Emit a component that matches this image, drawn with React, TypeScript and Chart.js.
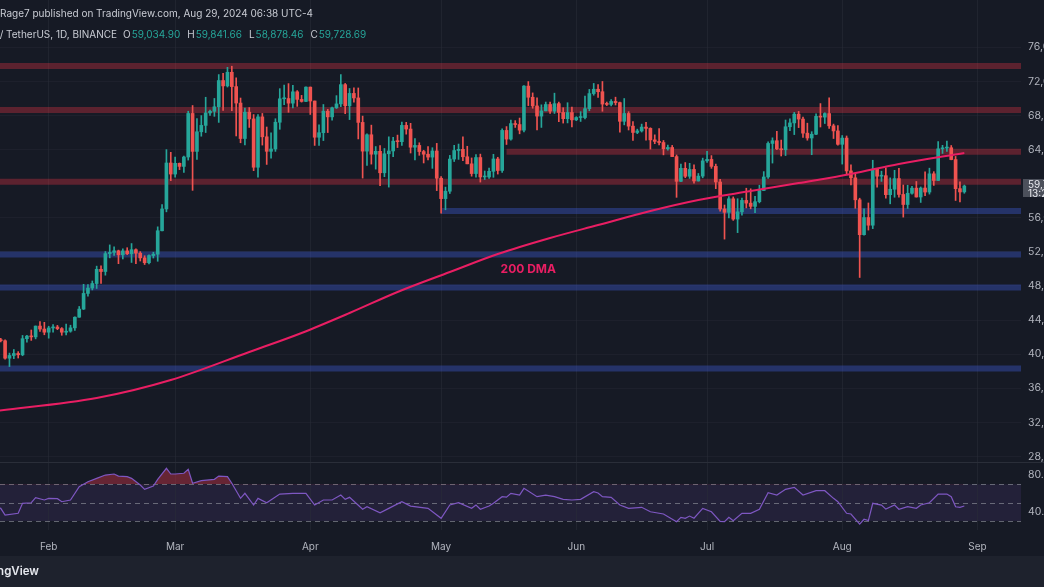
import React, { useEffect, useRef } from "react";
import { Chart, registerables } from "chart.js";

Chart.register(...registerables);

// ---------------- DATA ----------------
// Daily BTC/USDT candles, one per day starting at FIRST_DATE
const FIRST_DATE = "2024-01-20";

const opens = [
  // Jan 20-31
  41660, 41700, 41580, 39530, 39850, 40080, 39930, 41820, 42120, 42030, 43300, 42950,
  // Feb
  42580, 43080, 43190, 43000, 42580, 42700, 43090, 44340, 45290, 47130, 47760, 48290, 49960, 49700, 51800, 51940, 52130, 51660, 52120, 51780, 52260, 51850, 51300, 50730, 51570, 51730, 54480, 57040, 62430,
  // Mar
  61130, 62390, 62030, 63130, 68240, 63790, 66090, 66840, 68300, 68490, 69020, 72100, 71470, 73070, 71390, 69460, 65300, 68390, 67600, 61930, 67840, 65500, 63800, 64070, 67210, 69960, 69990, 69450, 70780, 69890, 69650,
  // Apr
  71330, 69700, 65450, 65980, 68500, 67840, 68900, 69360, 71620, 69140, 70590, 70060, 67190, 63820, 65740, 63460, 63800, 61280, 63510, 63840, 64990, 64930, 66840, 66410, 64280, 64490, 63770, 63460, 63120, 63840,
  // May
  60640, 58250, 59120, 62890, 63890, 64030, 63160, 62330, 61190, 63070, 60790, 60790, 61450, 62900, 61550, 66250, 65230, 67050, 66940, 66280, 71450, 70140, 69120, 67930, 68540, 69290, 68510, 69390, 68360, 67630, 68350,
  // Jun
  67490, 67760, 67760, 68800, 70570, 71080, 70790, 69340, 69300, 69650, 69510, 67320, 68240, 66750, 66010, 66190, 66640, 66490, 65140, 64960, 64830, 64100, 64250, 63180, 60280, 61800, 60870, 61670, 60320, 60890,
  // Jul
  62680, 62850, 62030, 60200, 57030, 56640, 58230, 55850, 56700, 58040, 57720, 57340, 57890, 59200, 60790, 64720, 65040, 64090, 63980, 66680, 67130, 68160, 67580, 65930, 65360, 65800, 67900, 67810, 68230, 66790, 66190,
  // Aug 1-29
  64620, 65350, 61500, 60690, 58110, 54020, 56030, 55130, 61710, 60880, 60940, 58710, 59350, 60600, 58740, 57560, 58880, 59480, 58440, 59490, 59020, 61160, 60380, 64090, 64180, 64220, 62830, 59420, 59034.9,
];

const highs = [
  41880, 41870, 41690, 40130, 40550, 40300, 42200, 42200, 42840, 43310, 43840, 43740,
  43280, 43480, 43380, 43120, 43540, 43400, 44370, 45600, 48200, 48170, 48590, 50330, 50370, 52040, 52820, 52580, 52210, 52360, 52490, 52980, 52370, 52030, 51550, 51670, 51960, 54940, 57550, 64000, 63680,
  63110, 62430, 63230, 68500, 69170, 67640, 67990, 70140, 68640, 70000, 72800, 72950, 73650, 73780, 72420, 70050, 68880, 68930, 68110, 68100, 68240, 66650, 65970, 67620, 71150, 71560, 71740, 71550, 70920, 70360, 71370,
  71340, 69700, 66900, 69290, 68720, 69000, 70330, 72800, 71760, 71170, 71260, 71230, 67930, 65840, 66870, 64360, 64480, 64130, 65500, 65450, 65700, 67230, 67200, 67080, 65300, 64800, 63920, 64360, 64220, 64730,
  60840, 59600, 63320, 64500, 64650, 65500, 64390, 63020, 63420, 63470, 61490, 61840, 63450, 63100, 66450, 66700, 67450, 67400, 67700, 71500, 71980, 70650, 70080, 69250, 69580, 69560, 70620, 69560, 68910, 69500, 69000,
  67860, 68450, 70280, 71060, 71760, 71630, 71990, 69580, 69880, 70150, 69560, 69990, 68450, 67300, 66400, 66990, 67190, 66560, 65730, 66480, 65070, 64520, 64490, 63370, 62300, 62480, 62390, 62200, 61200, 63000,
  63800, 63300, 62300, 60500, 57500, 58480, 58450, 58240, 58300, 59470, 59400, 58530, 59820, 61420, 64900, 65380, 66130, 65120, 67470, 67600, 68370, 68480, 67800, 67100, 66100, 68200, 69400, 68320, 70080, 66990, 66830,
  65650, 65600, 62200, 61120, 58300, 57040, 57740, 62750, 61750, 61470, 61860, 60680, 61570, 61800, 59850, 59820, 59690, 60260, 59620, 61400, 61820, 61410, 64950, 64500, 65000, 64480, 63200, 60230, 59841.66,
];

const lows = [
  41500, 41450, 39430, 38550, 39480, 39550, 39820, 41400, 41620, 41800, 42680, 42280,
  41880, 42570, 42880, 42220, 42260, 42580, 42790, 44330, 45240, 46800, 47540, 47710, 48300, 49270, 51300, 51580, 50620, 51170, 51680, 50760, 50630, 50930, 50520, 50590, 51280, 50900, 54450, 56700, 60360,
  60780, 61650, 61320, 62770, 59220, 62850, 65570, 66000, 68000, 67900, 67190, 68600, 71340, 68560, 65600, 64800, 64540, 66600, 61530, 60770, 64530, 62260, 63000, 63790, 66380, 69280, 68380, 68900, 69070, 69570, 69620,
  68120, 64490, 64490, 65060, 66000, 67450, 68820, 69040, 68210, 67520, 69560, 65250, 60660, 62130, 62300, 61710, 59770, 60820, 59600, 63170, 64240, 64500, 65810, 63600, 62800, 63330, 62430, 62800, 61800, 59190,
  56550, 56940, 58850, 62600, 62850, 62700, 62330, 60880, 60770, 60190, 60490, 60630, 60750, 61130, 61310, 64600, 65120, 66600, 65850, 66060, 69160, 68850, 66300, 66600, 68540, 68230, 68240, 67280, 67110, 67130, 66670,
  67390, 67300, 67610, 68560, 70380, 70120, 68500, 69160, 69130, 69230, 66050, 66900, 66300, 65080, 65870, 66060, 65100, 64060, 64690, 64550, 63380, 63940, 63180, 58400, 60230, 60710, 60620, 60060, 60300, 60690,
  62500, 61800, 59420, 56780, 53500, 56000, 55700, 54260, 56300, 57160, 57050, 56600, 57750, 59180, 60630, 62420, 64000, 63250, 63300, 66220, 65760, 66580, 65440, 65100, 63400, 65750, 66650, 67060, 66480, 65300, 64530,
  62300, 61100, 59850, 57120, 49000, 53970, 54560, 54730, 59590, 60270, 58290, 57640, 58410, 58430, 56080, 57100, 58780, 58430, 57800, 58590, 58780, 59800, 60350, 63550, 63800, 62800, 58030, 57860, 58878.46,
];

const closes = [
  41700, 41580, 39530, 39850, 40080, 39930, 41820, 42120, 42030, 43300, 42950, 42580,
  43080, 43190, 43000, 42580, 42700, 43090, 44340, 45290, 47130, 47760, 48290, 49960, 49700, 51800, 51940, 52130, 51660, 52120, 51780, 52260, 51850, 51300, 50730, 51570, 51730, 54480, 57040, 62430, 61130,
  62390, 62030, 63130, 68240, 63790, 66090, 66840, 68300, 68490, 69020, 72100, 71470, 73070, 71390, 69460, 65300, 68390, 67600, 61930, 67840, 65500, 63800, 64070, 67210, 69960, 69990, 69450, 70780, 69890, 69650, 71330,
  69700, 65450, 65980, 68500, 67840, 68900, 69360, 71620, 69140, 70590, 70060, 67190, 63820, 65740, 63460, 63800, 61280, 63510, 63840, 64990, 64930, 66840, 66410, 64280, 64490, 63770, 63460, 63120, 63840, 60640,
  58250, 59120, 62890, 63890, 64030, 63160, 62330, 61190, 63070, 60790, 60790, 61450, 62900, 61550, 66250, 65230, 67050, 66940, 66280, 71450, 70140, 69120, 67930, 68540, 69290, 68510, 69390, 68360, 67630, 68350, 67490,
  67760, 67760, 68800, 70570, 71080, 70790, 69340, 69300, 69650, 69510, 67320, 68240, 66750, 66010, 66190, 66640, 66490, 65140, 64960, 64830, 64100, 64250, 63180, 60280, 61800, 60870, 61670, 60320, 60890, 62680,
  62850, 62030, 60200, 57030, 56640, 58230, 55850, 56700, 58040, 57720, 57340, 57890, 59200, 60790, 64720, 65040, 64090, 63980, 66680, 67130, 68160, 67580, 65930, 65360, 65800, 67900, 67810, 68230, 66790, 66190, 64620,
  65350, 61500, 60690, 58110, 54020, 56030, 55130, 61710, 60880, 60940, 58710, 59350, 60600, 58740, 57560, 58880, 59480, 58440, 59490, 59020, 61160, 60380, 64090, 64180, 64220, 62830, 59420, 59030, 59728.69,
];

// 200-day moving average
const dmaDates = [
  "2024-01-20", "2024-02-12", "2024-02-29", "2024-03-18", "2024-03-30", "2024-04-10",
  "2024-04-21", "2024-05-03", "2024-05-14", "2024-05-26", "2024-06-06", "2024-06-18",
  "2024-06-29", "2024-07-11", "2024-07-22", "2024-08-03", "2024-08-14", "2024-08-29",
];
const dmaValues = [
  33350, 34860, 36970, 40260, 42490, 44830,
  47300, 49640, 51750, 53630, 55150, 56800,
  58090, 59140, 60080, 61140, 62310, 63600,
];

// RSI (14)
const rsiDates = [
  "2024-01-20", "2024-01-21", "2024-01-22", "2024-01-25", "2024-01-26", "2024-01-28", "2024-01-29", "2024-01-31",
  "2024-02-01", "2024-02-03", "2024-02-04", "2024-02-06", "2024-02-08", "2024-02-10", "2024-02-12", "2024-02-14", "2024-02-16", "2024-02-17", "2024-02-19", "2024-02-20", "2024-02-22", "2024-02-23", "2024-02-25", "2024-02-26", "2024-02-28", "2024-02-29",
  "2024-03-01", "2024-03-03", "2024-03-04", "2024-03-05", "2024-03-07", "2024-03-10", "2024-03-11", "2024-03-13", "2024-03-14", "2024-03-16", "2024-03-17", "2024-03-19", "2024-03-20", "2024-03-22", "2024-03-25", "2024-03-28", "2024-03-31",
  "2024-04-02", "2024-04-04", "2024-04-06", "2024-04-08", "2024-04-09", "2024-04-10", "2024-04-13", "2024-04-14", "2024-04-17", "2024-04-19", "2024-04-22", "2024-04-24", "2024-04-28",
  "2024-05-01", "2024-05-03", "2024-05-05", "2024-05-08", "2024-05-09", "2024-05-10", "2024-05-12", "2024-05-13", "2024-05-15", "2024-05-16", "2024-05-17", "2024-05-19", "2024-05-20", "2024-05-23", "2024-05-25", "2024-05-27", "2024-05-29", "2024-05-31",
  "2024-06-02", "2024-06-05", "2024-06-06", "2024-06-07", "2024-06-09", "2024-06-11", "2024-06-13", "2024-06-16", "2024-06-18", "2024-06-21", "2024-06-24", "2024-06-25", "2024-06-26", "2024-06-27", "2024-06-28", "2024-06-30",
  "2024-07-02", "2024-07-04", "2024-07-05", "2024-07-06", "2024-07-07", "2024-07-09", "2024-07-11", "2024-07-13", "2024-07-15", "2024-07-17", "2024-07-19", "2024-07-21", "2024-07-23", "2024-07-26", "2024-07-28", "2024-07-30", "2024-07-31",
  "2024-08-02", "2024-08-03", "2024-08-05", "2024-08-06", "2024-08-07", "2024-08-08", "2024-08-10", "2024-08-11", "2024-08-13", "2024-08-14", "2024-08-16", "2024-08-18", "2024-08-19", "2024-08-21", "2024-08-23", "2024-08-25", "2024-08-26", "2024-08-27", "2024-08-28", "2024-08-29",
];
const rsiValues = [
  45.5, 43.8, 36.5, 38.4, 49.3, 49.9, 55.4, 52.9,
  54.7, 54.3, 51, 52.9, 67.4, 72.8, 76.5, 80.1, 81.2, 79, 78.3, 76.5, 69.2, 64.5, 68.1, 75.4, 87.4, 81.2,
  81.2, 82, 86.3, 71.1, 74, 75.4, 79, 78.3, 71.1, 54.7, 60.2, 47.4, 54.7, 49.9, 59.4, 60.2, 60.2,
  47.4, 52.9, 52.9, 58.3, 53.6, 55.8, 42.8, 45.6, 39, 43.8, 51, 46.3, 43.8,
  32.9, 47.4, 49.9, 43.8, 47.4, 42.8, 46.3, 49.3, 56.5, 56, 60.2, 58.3, 65.6, 56.5, 58.3, 56.5, 53.6, 52.9,
  53.6, 61.9, 60.5, 56.5, 55.8, 47.4, 43.8, 44.9, 40.1, 37.6, 29.2, 34, 32.9, 35.4, 33, 43.8,
  40.1, 29.5, 29.2, 34, 30.3, 38.4, 38.4, 42.8, 60.8, 58.3, 64.5, 66.7, 58.3, 63, 63, 54.7, 51,
  38.4, 37.6, 26.7, 31.9, 30.5, 49.3, 47.4, 43, 47.4, 42.8, 45.6, 43.8, 47.4, 49.9, 59.4, 59.4, 56.5, 45.5, 44.9, 46.3,
];

// Horizontal support / resistance zones
const zonePrices = [73800, 68650, 63750, 60230, 56800, 51700, 47820, 38320];
const zoneStarts = ["2024-01-01", "2024-01-01", "2024-05-16", "2024-01-01", "2024-05-01", "2024-01-01", "2024-01-01", "2024-01-01"];
const zoneKinds = ["res", "res", "res", "res", "sup", "sup", "sup", "sup"];
const zoneEnd = "2024-09-30";

// Axes
const monthTickDates = ["2024-02-01", "2024-03-01", "2024-04-01", "2024-05-01", "2024-06-01", "2024-07-01", "2024-08-01", "2024-09-01"];
const monthTickLabels = ["Feb", "Mar", "Apr", "May", "Jun", "Jul", "Aug", "Sep"];
const priceTicks = [28000, 32000, 36000, 40000, 44000, 48000, 52000, 56000, 64000, 68000, 72000, 76000];
const rsiTicks = [40, 80];
const rsiLevels = [70, 50, 30];

const dmaLabel = "200 DMA";
const dmaLabelDate = "2024-05-21";
const dmaLabelPrice = 49900;

const headerLine1 = "Rage7 published on TradingView.com, Aug 29, 2024 06:38 UTC-4";
const headerSymbol = "Bitcoin / TetherUS, 1D, BINANCE";
const ohlcKeys = ["O", "H", "L", "C"];
const ohlcValues = ["59,034.90", "59,841.66", "58,878.46", "59,728.69"];
const countdown = "13:21:26";
const brand = "TradingView";

// ---------------- STYLE ----------------
const BG = "#161a25";
const FOOTER_BG = "#1e222d";
const UP = "#26a69a";
const DOWN = "#ef5350";
const RES_COLOR = "rgba(242,54,69,0.32)";
const SUP_COLOR = "rgba(60,85,200,0.42)";
const DMA_COLOR = "#e91e63";
const RSI_COLOR = "#7e57c2";
const AXIS_TEXT = "#b2b5be";
const GRID = "rgba(42,46,57,0.55)";
const FONT = "Inter, 'Noto Sans', sans-serif";

const VIEW_START = -11.17;
const VIEW_END = 223.0;

const toDay = (s: string) => {
  const [y, m, d] = s.split("-").map(Number);
  return (Date.UTC(y, m - 1, d) - Date.UTC(2024, 1, 1)) / 86400000;
};
const fmt2 = (v: number) => v.toLocaleString("en-US", { minimumFractionDigits: 2, maximumFractionDigits: 2 });

const noPadY = (s: any) => {
  s.width = 23;
  s.paddingTop = 0;
  s.paddingBottom = 0;
};

export default function App() {
  const ref = useRef<HTMLCanvasElement>(null);

  useEffect(() => {
    const canvas = ref.current;
    if (!canvas) return;
    Chart.defaults.font.family = FONT;

    const n = Math.min(opens.length, highs.length, lows.length, closes.length);
    const start = toDay(FIRST_DATE);
    const bodies: any[] = [];
    const wicks: any[] = [];
    const colors: string[] = [];
    for (let i = 0; i < n; i++) {
      const x = start + i;
      bodies.push({ x, y: [opens[i], closes[i]] });
      wicks.push({ x, y: [lows[i], highs[i]] });
      colors.push(closes[i] >= opens[i] ? UP : DOWN);
    }

    const zoneSets = zonePrices.map((p, i) => ({
      type: "line" as const,
      data: [
        { x: toDay(zoneStarts[i]), y: p },
        { x: toDay(zoneEnd), y: p },
      ],
      borderColor: zoneKinds[i] === "res" ? RES_COLOR : SUP_COLOR,
      borderWidth: 6,
      borderCapStyle: "butt" as const,
      pointRadius: 0,
      yAxisID: "y",
      order: 20,
      clip: 0,
    }));

    const chromePlugin = {
      id: "tvChrome",
      beforeDraw(chart: any) {
        const { ctx, width, height, chartArea } = chart;
        ctx.save();
        ctx.fillStyle = BG;
        ctx.fillRect(0, 0, width, height);
        const yr = chart.scales.yRsi;
        const t = yr.getPixelForValue(rsiLevels[0]);
        const b = yr.getPixelForValue(rsiLevels[2]);
        ctx.fillStyle = "rgba(126,87,194,0.13)";
        ctx.fillRect(chartArea.left, t, chartArea.right - chartArea.left, b - t);
        ctx.restore();
      },
      beforeDatasetsDraw(chart: any) {
        const { ctx, chartArea } = chart;
        const yr = chart.scales.yRsi;
        ctx.save();
        ctx.strokeStyle = "rgba(150,153,164,0.6)";
        ctx.lineWidth = 1;
        ctx.setLineDash([5, 4]);
        rsiLevels.forEach((lv) => {
          const y = Math.round(yr.getPixelForValue(lv)) + 0.5;
          ctx.beginPath();
          ctx.moveTo(chartArea.left, y);
          ctx.lineTo(chartArea.right, y);
          ctx.stroke();
        });
        ctx.restore();
      },
      afterDraw(chart: any) {
        const { ctx, width, height, chartArea } = chart;
        const yp = chart.scales.y;
        const xs = chart.scales.x;
        const yr = chart.scales.yRsi;
        ctx.save();
        // pane separator
        ctx.strokeStyle = "#2a2e39";
        ctx.lineWidth = 1;
        const sy = Math.round(yr.top) + 0.5;
        ctx.beginPath();
        ctx.moveTo(0, sy);
        ctx.lineTo(width, sy);
        ctx.stroke();

        // current price label
        const last = closes[n - 1];
        const py = yp.getPixelForValue(last);
        ctx.fillStyle = "#4c505b";
        ctx.fillRect(chartArea.right + 2, py - 7, width - chartArea.right, 18);
        ctx.fillStyle = "#e8eaef";
        ctx.font = `10px ${FONT}`;
        ctx.textAlign = "left";
        ctx.textBaseline = "middle";
        ctx.fillText(fmt2(last), chartArea.right + 7, py - 1);
        ctx.fillText(countdown, chartArea.right + 7, py + 7.5);

        // 200 DMA label
        ctx.fillStyle = DMA_COLOR;
        ctx.font = `bold 12px ${FONT}`;
        ctx.textAlign = "center";
        ctx.fillText(dmaLabel, xs.getPixelForValue(toDay(dmaLabelDate)), yp.getPixelForValue(dmaLabelPrice));

        // header
        ctx.textAlign = "left";
        ctx.font = `10px ${FONT}`;
        ctx.fillStyle = "#c9ccd4";
        ctx.fillText(headerLine1, 0, 14);
        ctx.textAlign = "right";
        ctx.fillText(headerSymbol, 117, 35);
        ctx.textAlign = "left";
        let hx = 123;
        ohlcKeys.forEach((k, i) => {
          ctx.fillStyle = "#c9ccd4";
          ctx.fillText(k, hx, 35);
          hx += ctx.measureText(k).width + 1;
          ctx.fillStyle = UP;
          ctx.fillText(ohlcValues[i], hx, 35);
          hx += ctx.measureText(ohlcValues[i]).width + 7;
        });

        // footer
        ctx.fillStyle = FOOTER_BG;
        ctx.fillRect(0, 556, width, height - 556);
        ctx.fillStyle = "#e6e8ee";
        ctx.font = `600 11.5px ${FONT}`;
        ctx.textAlign = "right";
        ctx.fillText(brand, 39, 572);
        ctx.restore();
      },
    };

    const chart = new Chart(canvas, {
      type: "bar",
      data: {
        datasets: [
          ...zoneSets,
          {
            type: "bar",
            data: wicks,
            backgroundColor: colors,
            barThickness: 1,
            grouped: false,
            minBarLength: 1,
            yAxisID: "y",
            order: 6,
          },
          {
            type: "bar",
            data: bodies,
            backgroundColor: colors,
            barThickness: 3,
            grouped: false,
            minBarLength: 1,
            yAxisID: "y",
            order: 5,
          },
          {
            type: "line",
            data: dmaDates.map((d, i) => ({ x: toDay(d), y: dmaValues[i] })),
            borderColor: DMA_COLOR,
            borderWidth: 2,
            pointRadius: 0,
            cubicInterpolationMode: "monotone",
            yAxisID: "y",
            order: 3,
          },
          {
            type: "line",
            data: rsiDates.map((d, i) => ({ x: toDay(d), y: rsiValues[i] })),
            borderColor: RSI_COLOR,
            borderWidth: 1.2,
            pointRadius: 0,
            yAxisID: "yRsi",
            order: 2,
            fill: { target: { value: 70 }, above: "rgba(200,50,70,0.45)", below: "rgba(0,0,0,0)" },
          },
        ] as any,
      },
      options: {
        responsive: false,
        animation: false,
        devicePixelRatio: 1,
        events: [],
        layout: { padding: 0 },
        plugins: { legend: { display: false }, tooltip: { enabled: false }, title: { display: false } },
        scales: {
          x: {
            type: "linear",
            min: VIEW_START,
            max: VIEW_END,
            offset: false,
            position: "bottom",
            grid: { color: GRID, drawTicks: false, offset: false },
            border: { display: false },
            afterBuildTicks: (s: any) => {
              s.ticks = monthTickDates.map((d) => ({ value: toDay(d) }));
            },
            afterFit: (s: any) => {
              s.height = 57;
              s.paddingLeft = 0;
              s.paddingRight = 0;
            },
            ticks: {
              autoSkip: false,
              maxRotation: 0,
              padding: 11,
              color: AXIS_TEXT,
              font: { size: 10 },
              callback: (_v: any, i: number) => monthTickLabels[i],
            },
          },
          y: {
            type: "linear",
            position: "right",
            stack: "pane",
            stackWeight: 462,
            min: 27355,
            max: 81548,
            grid: { color: "rgba(42,46,57,0.35)", drawTicks: false },
            border: { display: false },
            afterBuildTicks: (s: any) => {
              s.ticks = priceTicks.map((v) => ({ value: v }));
            },
            afterFit: noPadY,
            ticks: {
              padding: 7,
              color: AXIS_TEXT,
              font: { size: 10.5 },
              callback: (v: any) => fmt2(Number(v)),
            },
          },
          yRsi: {
            type: "linear",
            position: "right",
            stack: "pane",
            stackWeight: 68,
            min: 20.2,
            max: 94.3,
            grid: { display: false, drawTicks: false },
            border: { display: false },
            afterBuildTicks: (s: any) => {
              s.ticks = rsiTicks.map((v) => ({ value: v }));
            },
            afterFit: noPadY,
            ticks: {
              padding: 7,
              color: AXIS_TEXT,
              font: { size: 10.5 },
              callback: (v: any) => fmt2(Number(v)),
            },
          },
        },
      } as any,
      plugins: [chromePlugin],
    });

    return () => chart.destroy();
  }, []);

  return (
    <div style={{ position: "fixed", left: 0, top: 0, width: 1044, height: 587, background: BG, overflow: "hidden" }}>
      <canvas ref={ref} width={1044} height={587} style={{ display: "block", width: 1044, height: 587 }} />
    </div>
  );
}
